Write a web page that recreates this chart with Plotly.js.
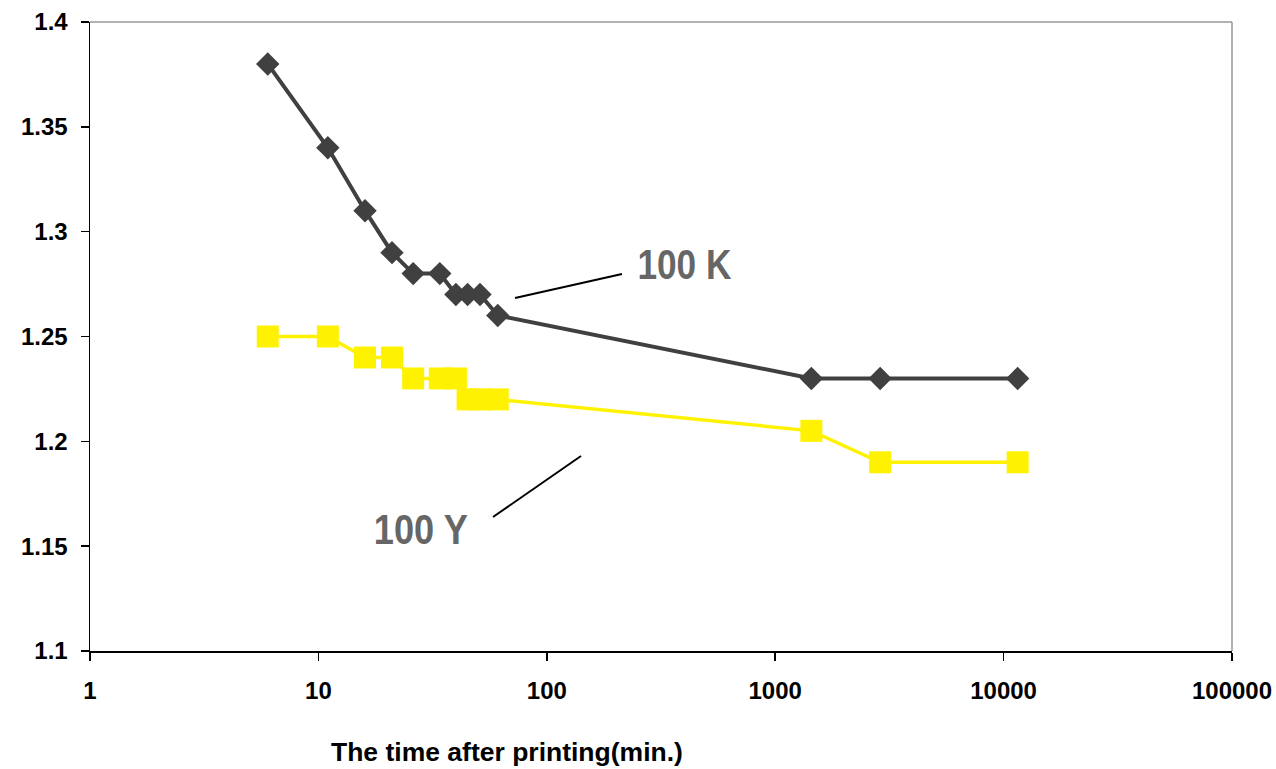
<!DOCTYPE html>
<html>
<head>
<meta charset="utf-8">
<script src="https://cdn.plot.ly/plotly-3.0.1.min.js"></script>
<style>html,body{margin:0;padding:0;background:#fff;}#chart{width:1276px;height:769px;}</style>
</head>
<body>
<div id="chart"></div>
<script>
var timeMin = [6, 11, 16, 21, 26, 34, 40, 45, 51, 61, 1440, 2880, 11520];
var k100 = [1.38, 1.34, 1.31, 1.29, 1.28, 1.28, 1.27, 1.27, 1.27, 1.26, 1.23, 1.23, 1.23];
var y100 = [1.25, 1.25, 1.24, 1.24, 1.23, 1.23, 1.23, 1.22, 1.22, 1.22, 1.205, 1.19, 1.19];
var xTickVals = [1, 10, 100, 1000, 10000, 100000];
var xTickText = ['1', '10', '100', '1000', '10000', '100000'];
var yTickVals = [1.1, 1.15, 1.2, 1.25, 1.3, 1.35, 1.4];
var yTickText = ['1.1', '1.15', '1.2', '1.25', '1.3', '1.35', '1.4'];

var F = 'Liberation Sans, Arial, sans-serif';
var traces = [
  {x: timeMin, y: y100, type: 'scatter', mode: 'lines+markers', name: '100 Y',
   line: {color: '#FFF200', width: 3.5},
   marker: {symbol: 'square', size: 22, color: '#FFF200'}},
  {x: timeMin, y: k100, type: 'scatter', mode: 'lines+markers', name: '100 K',
   line: {color: '#404040', width: 4},
   marker: {symbol: 'diamond', size: 18, color: '#404040'}}
];

function px(x){ return (x - 90) / 1142; }
function py(y){ return (651 - y) / 629; }

var layout = {
  width: 1276, height: 769,
  margin: {l: 90, r: 44, t: 22, b: 118},
  paper_bgcolor: '#fff', plot_bgcolor: '#fff',
  showlegend: false,
  font: {family: F, color: '#000'},
  xaxis: {type: 'log', range: [0, 5], tickmode: 'array', tickvals: xTickVals, ticktext: xTickText,
    ticks: 'outside', ticklen: 8, tickwidth: 1.5, tickcolor: '#000', showgrid: false, zeroline: false,
    showline: true, linecolor: '#000', linewidth: 1.5, ticklabelstandoff: 10,
    tickfont: {family: F, size: 24, color: '#000', weight: 'bold'}},
  xaxis2: {type: 'log', range: [0, 5], overlaying: 'x', anchor: 'y', side: 'bottom',
    tickmode: 'array', tickvals: xTickVals, ticks: 'inside', ticklen: 8, tickwidth: 1.5, tickcolor: '#000',
    showticklabels: false, showgrid: false, zeroline: false, showline: false},
  yaxis: {range: [1.1, 1.4], tickmode: 'array', tickvals: yTickVals, ticktext: yTickText,
    ticks: 'outside', ticklen: 8, tickwidth: 1.5, tickcolor: '#000', showgrid: false, zeroline: false,
    showline: true, linecolor: '#000', linewidth: 1.5, ticklabelstandoff: 8,
    tickfont: {family: F, size: 24, color: '#000', weight: 'bold'}},
  yaxis2: {range: [1.1, 1.4], overlaying: 'y', anchor: 'x', side: 'left',
    tickmode: 'array', tickvals: yTickVals, ticks: 'inside', ticklen: 8, tickwidth: 1.5, tickcolor: '#000',
    showticklabels: false, showgrid: false, zeroline: false, showline: false},
  shapes: [
    {type: 'line', xref: 'paper', yref: 'paper', x0: 0, x1: 1, y0: 1, y1: 1, line: {color: '#999', width: 1.5}},
    {type: 'line', xref: 'paper', yref: 'paper', x0: 1, x1: 1, y0: 0, y1: 1, line: {color: '#999', width: 1.5}},
    {type: 'line', xref: 'paper', yref: 'paper', x0: px(515), y0: py(298), x1: px(622), y1: py(274), line: {color: '#000', width: 2}},
    {type: 'line', xref: 'paper', yref: 'paper', x0: px(493), y0: py(517), x1: px(581), y1: py(456), line: {color: '#000', width: 2}}
  ],
  annotations: [
    {text: '100 K', xref: 'paper', yref: 'paper', x: px(684), y: py(264), showarrow: false,
     xanchor: 'center', yanchor: 'middle',
     font: {family: F, size: 43, color: '#666', weight: 'bold'}},
    {text: '100 Y', xref: 'paper', yref: 'paper', x: px(421), y: py(529), showarrow: false,
     xanchor: 'center', yanchor: 'middle',
     font: {family: F, size: 43, color: '#666', weight: 'bold'}},
    {text: '<b>The time after printing(min.)</b>', xref: 'paper', yref: 'paper', x: px(507), y: py(752),
     showarrow: false, xanchor: 'center', yanchor: 'middle',
     font: {family: F, size: 26.5, color: '#000'}}
  ]
};

Plotly.newPlot('chart', traces, layout, {displayModeBar: false, staticPlot: true}).then(function(gd){
  // condense the two series labels (narrow bold look of the original)
  var texts = gd.querySelectorAll('.annotation-text');
  for (var i = 0; i < 2 && i < texts.length; i++) {
    texts[i].setAttribute('textLength', '94');
    texts[i].setAttribute('lengthAdjust', 'spacingAndGlyphs');
  }
});
</script>
</body>
</html>
